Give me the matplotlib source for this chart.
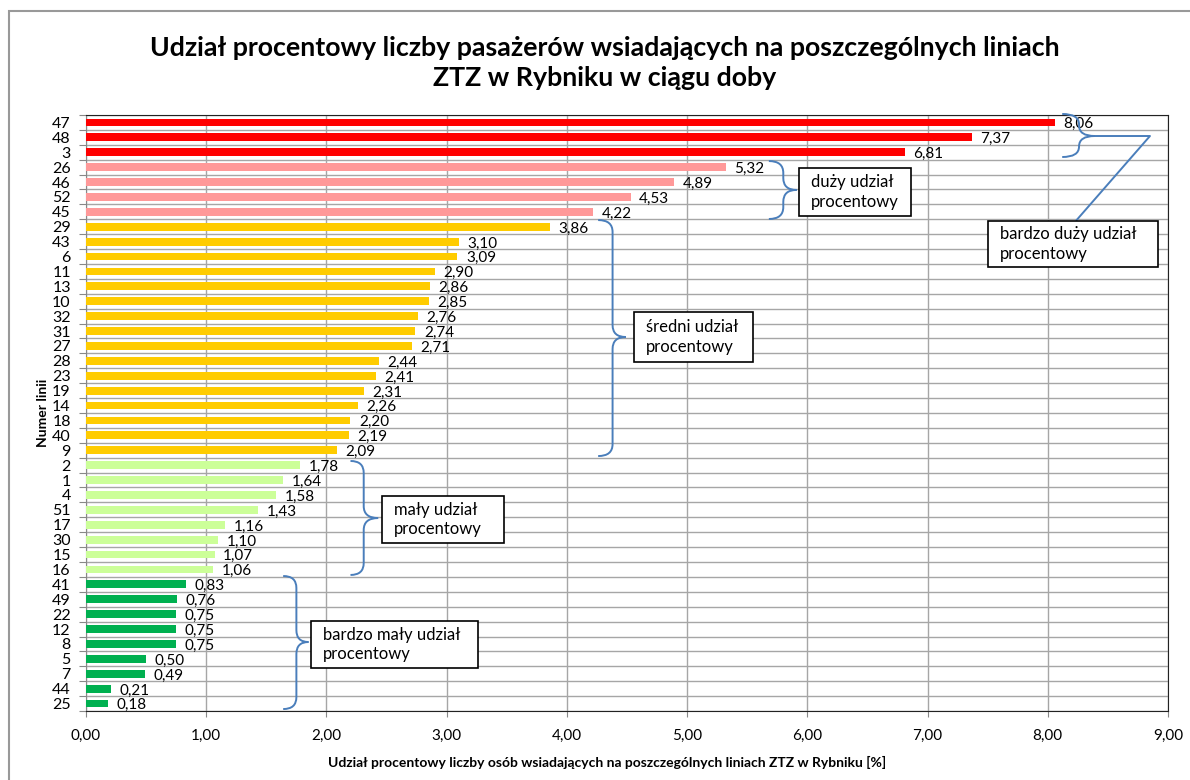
import matplotlib
matplotlib.use("Agg")
import matplotlib.pyplot as plt
from matplotlib.patches import Rectangle, PathPatch
from matplotlib.path import Path

plt.rcParams['font.family'] = ['Lato', 'DejaVu Sans']

lines = ['47', '48', '3', '26', '46', '52', '45', '29', '43', '6', '11', '13', '10', '32',
         '31', '27', '28', '23', '19', '14', '18', '40', '9', '2', '1', '4', '51', '17',
         '30', '15', '16', '41', '49', '22', '12', '8', '5', '7', '44', '25']
values = [8.06, 7.37, 6.81, 5.32, 4.89, 4.53, 4.22, 3.86, 3.10, 3.09, 2.90, 2.86, 2.85, 2.76,
          2.74, 2.71, 2.44, 2.41, 2.31, 2.26, 2.20, 2.19, 2.09, 1.78, 1.64, 1.58, 1.43, 1.16,
          1.10, 1.07, 1.06, 0.83, 0.76, 0.75, 0.75, 0.75, 0.50, 0.49, 0.21, 0.18]
group_sizes = [3, 4, 16, 8, 9]
group_colors = ['#FF0000', '#FF9999', '#FFCC00', '#CCFF99', '#00B050']
group_labels = ['bardzo duży udział\nprocentowy', 'duży udział\nprocentowy',
                'średni udział\nprocentowy', 'mały udział\nprocentowy',
                'bardzo mały udział\nprocentowy']
x_ticks = [0, 1, 2, 3, 4, 5, 6, 7, 8, 9]

colors = []
for n, c in zip(group_sizes, group_colors):
    colors += [c] * n

W, H = 1190, 780
fig = plt.figure(figsize=(W / 100, H / 100), dpi=100)
ax = fig.add_axes([86 / W, 1 - 711 / H, (1168 - 86) / W, (711 - 115) / H])

y = list(range(len(lines)))
ax.barh(y, values, height=0.53, color=colors, zorder=3)
ax.set_xlim(0, 9)
ax.set_ylim(len(lines) - 0.5, -0.5)

ax.set_xticks(x_ticks)
ax.set_xticklabels([f"{v:.2f}".replace('.', ',') for v in x_ticks], fontsize=11)
ax.set_yticks([i - 0.5 for i in range(len(lines) + 1)])
ax.set_yticklabels([])
ax.set_yticks(y, minor=True)
ax.set_yticklabels(lines, minor=True, fontsize=11.5)
ax.tick_params(axis='y', which='minor', length=0, pad=11)
ax.tick_params(axis='y', which='major', length=5, color='#888888')
ax.tick_params(axis='x', which='major', length=4, color='#888888', pad=9)
ax.grid(True, which='major', color='#A6A6A6', linewidth=1.0, zorder=0)
ax.set_axisbelow(True)
for s in ['top', 'right', 'bottom']:
    ax.spines[s].set_color('#222222')
ax.spines['left'].set_color('#888888')

for yi, v in zip(y, values):
    ax.text(v + 0.07, yi + 0.12, f"{v:.2f}".replace('.', ','), va='center', ha='left',
            fontsize=11, zorder=4)

ax.set_xlabel('Udział procentowy liczby osób wsiadających na poszczególnych liniach ZTZ w Rybniku [%]',
              fontsize=10, fontweight='bold')
ax.xaxis.set_label_coords((607 - 86) / (1168 - 86), -0.075)
ax.set_ylabel('Numer linii', fontsize=10, fontweight='bold', labelpad=2)

fig.text(605 / W, 1 - 63 / H, 'Udział procentowy liczby pasażerów wsiadających na poszczególnych liniach\nZTZ w Rybniku w ciągu doby',
         ha='center', va='center', fontsize=19.3, fontweight='bold', linespacing=1.3)

# figure border
fig.patches.append(Rectangle((9 / W, -0.01), 1.02, 1 - 11 / H + 0.01, transform=fig.transFigure,
                             fill=False, edgecolor='#999999', linewidth=1.5))

BRACE = '#4A7EBB'


def brace(x0, xs, xt, y0, ym, y1, r=0.8):
    verts = [(x0, y0), (xs, y0), (xs, y0 + r),
             (xs, ym - r),
             (xs, ym), (xt, ym),
             (xs, ym), (xs, ym + r),
             (xs, y1 - r),
             (xs, y1), (x0, y1)]
    codes = [Path.MOVETO, Path.CURVE3, Path.CURVE3,
             Path.LINETO,
             Path.CURVE3, Path.CURVE3,
             Path.CURVE3, Path.CURVE3,
             Path.LINETO,
             Path.CURVE3, Path.CURVE3]
    ax.add_patch(PathPatch(Path(verts, codes), fill=False, edgecolor=BRACE, linewidth=1.4,
                           clip_on=False, zorder=5))


def box(x0, x1, y0, y1, text):
    ax.add_patch(Rectangle((x0, y0), x1 - x0, y1 - y0, facecolor='white', edgecolor='black',
                           linewidth=1.2, clip_on=False, zorder=6))
    ax.text(x0 + 0.1, (y0 + y1) / 2, text, ha='left', va='center', fontsize=12,
            linespacing=1.25, zorder=7, clip_on=False)


# very large
brace(8.12, 8.26, 8.39, -0.57, 0.91, 2.32, r=0.7)
ax.plot([8.39, 8.85, 8.24], [0.91, 0.91, 6.55], color=BRACE, linewidth=1.4, clip_on=False, zorder=5)
box(7.50, 8.92, 6.61, 9.70, group_labels[0])
# large
brace(5.68, 5.80, 5.91, 2.59, 4.53, 6.48, r=0.8)
box(5.93, 6.86, 3.06, 6.28, group_labels[1])
# medium
brace(4.26, 4.38, 4.49, 6.55, 14.40, 22.39, r=0.8)
box(4.56, 5.55, 12.72, 16.08, group_labels[2])
# small
brace(2.20, 2.31, 2.43, 22.72, 26.55, 30.37, r=0.8)
box(2.46, 3.48, 25.07, 28.22, group_labels[3])
# very small
brace(1.64, 1.75, 1.85, 30.44, 34.87, 39.37, r=0.8)
box(1.87, 3.26, 33.46, 36.61, group_labels[4])

fig.savefig('out.png', dpi=100)
